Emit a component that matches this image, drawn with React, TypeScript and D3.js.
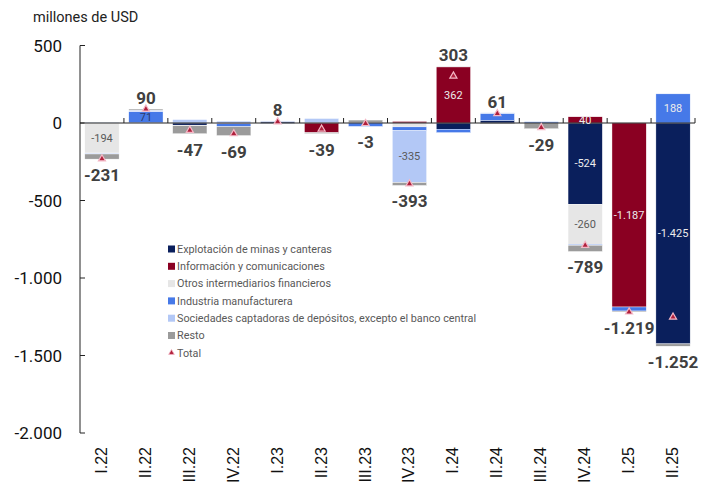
import * as d3 from 'd3';
import {useEffect, useRef} from 'react';

const width = 712;
const height = 491;

const quarters = ['I.22', 'II.22', 'III.22', 'IV.22', 'I.23', 'II.23', 'III.23', 'IV.23', 'I.24', 'II.24', 'III.24', 'IV.24', 'I.25', 'II.25'];

const seriesNames = [
  'Explotación de minas y canteras',
  'Información y comunicaciones',
  'Otros intermediarios financieros',
  'Industria manufacturera',
  'Sociedades captadoras de depósitos, excepto el banco central',
  'Resto',
];
const colors = ['#0a1f5c', '#8a0022', '#e6e6e6', '#4679e8', '#b3c8f6', '#9b9b9b'];

// valores en millones de USD, por trimestre
const minas = [0, 0, -14, 0, 9, 0, 0, 0, -40, 17, 0, -524, 0, -1425];
const informacion = [0, 2, 0, -4, 0, -62, 0, 10, 362, 0, 0, 40, -1187, 0];
const otros = [-194, 0, -4, 0, 0, 0, 2, -25, 0, 0, 0, -260, 0, 0];
const industria = [2, 71, 0, -20, -3, 4, -22, -24, -22, 45, 8, -5, -26, 188];
const sociedades = [-6, 10, 22, 12, 4, 25, 0, -335, 0, 4, 0, 0, 0, 0];
const resto = [-33, 7, -51, -57, -2, -6, 17, -19, 3, -5, -37, -40, -6, -15];
const totals = [-231, 90, -47, -69, 8, -39, -3, -393, 303, 61, -29, -789, -1219, -1252];

// segmentos con etiqueta: [trimestre, serie]
const labeled = [[0, 2], [1, 3], [7, 4], [8, 1], [11, 1], [11, 0], [11, 2], [12, 1], [13, 0], [13, 3]];

const yTicks = [500, 0, -500, -1000, -1500, -2000];

const fmt = (v: number) => d3.format(',')(v).replace(/,/g, '.').replace('\u2212', '-');

function App() {
  const ref = useRef<HTMLDivElement>(null);

  useEffect(() => {
    const all = [minas, informacion, otros, industria, sociedades, resto];
    const rows = quarters.map((q, i) => {
      const r: any = {q};
      seriesNames.forEach((s, j) => (r[s] = all[j][i]));
      return r;
    });

    const stack = d3.stack().keys(seriesNames).offset(d3.stackOffsetDiverging);
    const layers = stack(rows);

    const x = d3.scaleBand().domain(quarters).range([80, 695]).paddingInner(0.22).paddingOuter(0.11);
    const y = d3.scaleLinear().domain([-2000, 500]).range([433, 45.5]);

    const svg = d3
      .select(ref.current)
      .append('svg')
      .attr('width', width)
      .attr('height', height)
      .style('position', 'absolute')
      .style('left', 0)
      .style('top', 0)
      .style('background', '#fff')
      .style('font-family', 'Roboto, sans-serif');

    svg
      .append('text')
      .attr('x', 33)
      .attr('y', 22)
      .attr('font-size', 14.5)
      .attr('fill', '#222')
      .text('millones de USD');

    // eje y
    svg.append('line').attr('x1', 80).attr('x2', 80).attr('y1', y(500)).attr('y2', y(-2000)).attr('stroke', '#222');
    yTicks.forEach(t => {
      svg.append('line').attr('x1', 80).attr('x2', 85).attr('y1', y(t)).attr('y2', y(t)).attr('stroke', '#222');
      svg
        .append('text')
        .attr('x', 62)
        .attr('y', y(t))
        .attr('dy', '0.36em')
        .attr('text-anchor', 'end')
        .attr('font-size', 17)
        .attr('fill', '#111')
        .text(fmt(t));
    });

    // barras apiladas
    const grp = svg.append('g');
    layers.forEach((layer, j) => {
      grp
        .append('g')
        .attr('fill', colors[j])
        .selectAll('rect')
        .data(layer)
        .join('rect')
        .attr('x', d => x(d.data.q))
        .attr('width', x.bandwidth())
        .attr('y', d => y(Math.max(d[0], d[1])))
        .attr('height', d => Math.abs(y(d[0]) - y(d[1])))
        .attr('stroke', '#fff')
        .attr('stroke-width', 0.4);
    });

    // eje x en cero
    svg.append('line').attr('x1', 80).attr('x2', 695).attr('y1', y(0)).attr('y2', y(0)).attr('stroke', '#222');
    quarters.forEach(q => {
      const tx = x(q) + x.bandwidth() + (x.step() * 0.22) / 2;
      svg.append('line').attr('x1', tx).attr('x2', tx).attr('y1', y(0)).attr('y2', y(0) - 5).attr('stroke', '#222');
    });

    // etiquetas de segmento
    labeled.forEach(([i, j]) => {
      const d = layers[j][i];
      const v = all[j][i];
      svg
        .append('text')
        .attr('x', x(quarters[i]) + x.bandwidth() / 2)
        .attr('y', (y(d[0]) + y(d[1])) / 2)
        .attr('dy', '0.35em')
        .attr('text-anchor', 'middle')
        .attr('font-size', 11)
        .attr('fill', j === 2 || j === 4 ? '#595959' : j === 3 && v < 100 ? '#2a3a6a' : '#ececec')
        .text(fmt(v));
    });

    // total: marcador y etiqueta
    const tri = d3.symbol().type(d3.symbolTriangle).size(22);
    quarters.forEach((q, i) => {
      const cx = x(q) + x.bandwidth() / 2;
      svg
        .append('path')
        .attr('d', tri())
        .attr('transform', `translate(${cx},${y(totals[i])})`)
        .attr('fill', '#b0203c')
        .attr('stroke', '#f4b8c6')
        .attr('stroke-width', 1.2);
      const top = d3.max(layers, l => l[i][1]);
      const bot = d3.min(layers, l => l[i][0]);
      svg
        .append('text')
        .attr('x', cx)
        .attr('y', totals[i] >= 0 ? y(top) - 5 : y(bot) + 22)
        .attr('text-anchor', 'middle')
        .attr('font-size', 17)
        .attr('font-weight', 'bold')
        .attr('fill', '#404040')
        .text(fmt(totals[i]));
    });

    // etiquetas eje x
    quarters.forEach(q => {
      const cx = x(q) + x.bandwidth() / 2 + 5;
      svg
        .append('text')
        .attr('transform', `translate(${cx},447) rotate(-90)`)
        .attr('text-anchor', 'end')
        .attr('font-size', 16)
        .attr('font-family', '"Liberation Sans", Arial, sans-serif')
        .attr('fill', '#111')
        .text(q);
    });

    // leyenda
    const leg = svg.append('g').attr('transform', 'translate(168,249)');
    seriesNames.forEach((s, j) => {
      const g = leg.append('g').attr('transform', `translate(0,${j * 17.3})`);
      g.append('rect').attr('x', 0).attr('y', -3.5).attr('width', 7).attr('height', 7).attr('fill', colors[j]);
      g.append('text').attr('x', 9).attr('y', 0).attr('dy', '0.35em').attr('font-size', 10.8).attr('fill', '#595959').text(s);
    });
    const gt = leg.append('g').attr('transform', `translate(0,${6 * 17.3})`);
    gt.append('path').attr('d', d3.symbol().type(d3.symbolTriangle).size(14)()).attr('transform', 'translate(3.5,0)').attr('fill', '#b0203c').attr('stroke', '#f4b8c6').attr('stroke-width', 0.8);
    gt.append('text').attr('x', 9).attr('y', 0).attr('dy', '0.35em').attr('font-size', 10.8).attr('fill', '#595959').text('Total');

    return () => {
      svg.remove();
    };
  }, []);

  return <div ref={ref}></div>;
}

export default App;
